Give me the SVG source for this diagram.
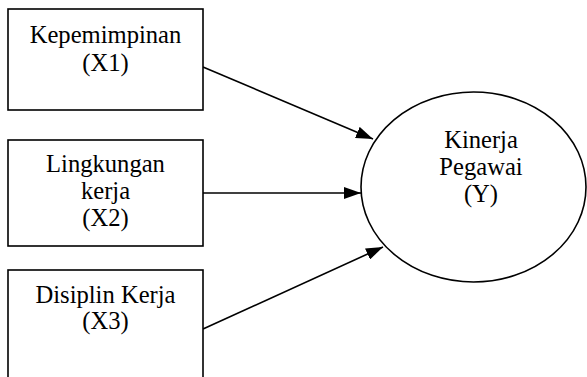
<svg xmlns="http://www.w3.org/2000/svg" width="587" height="377" viewBox="0 0 587 377">
<defs>
<style>
.box{fill:#fff;stroke:#000;stroke-width:1.6}
.t{font-family:"Liberation Serif","Times New Roman",serif;font-size:24.6px;fill:#000;text-anchor:middle}
.c{stroke:#000;stroke-width:1.6;fill:none}
</style>
<marker id="ah" viewBox="0 0 17 12" refX="17" refY="6" markerWidth="17" markerHeight="12" markerUnits="userSpaceOnUse" orient="auto">
<path d="M0,0 L17,6 L0,12 Z" fill="#000"/>
</marker>
</defs>
<rect width="587" height="377" fill="#fff"/>
<g id="connectors">
<line class="c" x1="203" y1="67" x2="373" y2="139" marker-end="url(#ah)"/>
<line class="c" x1="203" y1="193" x2="361" y2="193" marker-end="url(#ah)"/>
<line class="c" x1="203" y1="329" x2="383" y2="247" marker-end="url(#ah)"/>
</g>
<g id="x1">
<rect class="box" x="8" y="9" width="195" height="101"/>
<text class="t" x="105.5" y="43">Kepemimpinan</text>
<text class="t" x="105.5" y="71">(X1)</text>
</g>
<g id="x2">
<rect class="box" x="8" y="140" width="195" height="106"/>
<text class="t" x="105.5" y="172">Lingkungan</text>
<text class="t" x="105.5" y="199">kerja</text>
<text class="t" x="105.5" y="226">(X2)</text>
</g>
<g id="x3">
<rect class="box" x="8" y="270" width="195" height="120"/>
<text class="t" x="105.5" y="303">Disiplin Kerja</text>
<text class="t" x="105.5" y="329">(X3)</text>
</g>
<g id="y">
<ellipse class="box" cx="473.5" cy="187" rx="112.5" ry="95"/>
<text class="t" x="481" y="148">Kinerja</text>
<text class="t" x="481" y="175">Pegawai</text>
<text class="t" x="481" y="202">(Y)</text>
</g>
</svg>
